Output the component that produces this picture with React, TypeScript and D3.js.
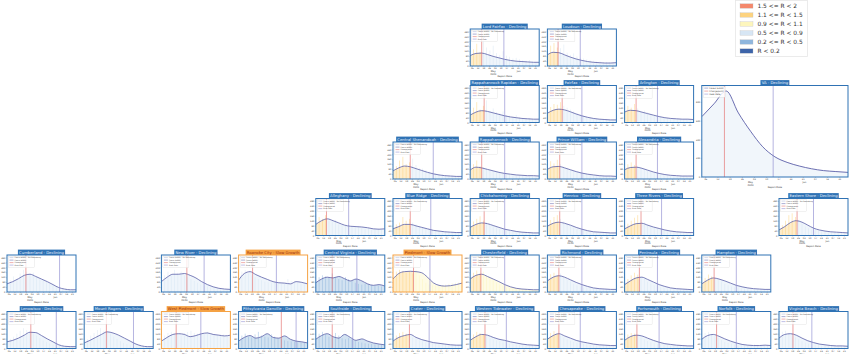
import React, { useEffect, useRef } from "react";
import * as d3 from "d3";

const W = 850;
const H = 354;

// colour key (top right)
const legendLabels = ["1.5 <= R < 2", "1.1 <= R < 1.5", "0.9 <= R < 1.1", "0.5 <= R < 0.9", "0.2 <= R < 0.5", "R < 0.2"];
const legendColors = ["#f4886c", "#fdd37f", "#fdf6bd", "#d7e6f4", "#8fb6dd", "#3d64a9"];

// small multiples, one per health district
const regionNames = [
  "Lord Fairfax", "Loudoun",
  "Rappahannock Rapidan", "Fairfax", "Arlington",
  "Central Shenandoah", "Rappahannock", "Prince William", "Alexandria",
  "Alleghany", "Blue Ridge", "Chickahominy", "Henrico", "Three Rivers", "Eastern Shore",
  "Cumberland", "New River", "Roanoke City", "Central Virginia", "Piedmont", "Chesterfield", "Richmond", "Peninsula", "Hampton",
  "Lenowisco", "Mount Rogers", "West Piedmont", "Pittsylvania Danville", "Southside", "Crater", "Western Tidewater", "Chesapeake", "Portsmouth", "Norfolk", "Virginia Beach",
];
const regionStatus = [
  "Declining", "Declining",
  "Declining", "Declining", "Declining",
  "Declining", "Declining", "Declining", "Declining",
  "Declining", "Declining", "Declining", "Declining", "Declining", "Declining",
  "Declining", "Declining", "Slow Growth", "Declining", "Slow Growth", "Declining", "Declining", "Declining", "Declining",
  "Declining", "Declining", "Slow Growth", "Declining", "Declining", "Declining", "Declining", "Declining", "Declining", "Declining", "Declining",
];
const regionRow = [0, 0, 1, 1, 1, 2, 2, 2, 2, 3, 3, 3, 3, 3, 3, 4, 4, 4, 4, 4, 4, 4, 4, 4, 5, 5, 5, 5, 5, 5, 5, 5, 5, 5, 5];
const regionCol = [6, 7, 6, 7, 8, 5, 6, 7, 8, 4, 5, 6, 7, 8, 10, 0, 2, 3, 4, 5, 6, 7, 8, 9, 0, 1, 2, 3, 4, 5, 6, 7, 8, 9, 10];

// days after the first report date
const changeDay = [14, 13, 17, 18, 14, 21, 14, 15, 14, 13, 21, 17, 15, 20, 22, 23, 31, 17, 20, 25, 13, 14, 18, 15, 29, 27, 18, 52, 20, 20, 18, 14, 15, 18, 17];
const peakDay = [41, 40, 42, 42, 40, 49, 42, 42, 40, 40, 46, 42, 42, 45, 42, 64, 52, 46, 50, 45, 42, 42, 40, 42, 60, 60, 48, 70, 45, 44, 44, 40, 42, 42, 40];
const earlyTone = [1, 1, 1, 1, 1, 1, 1, 1, 1, 1, 1, 1, 1, 1, 1, 3, 3, 3, 4, 1, 1, 1, 1, 1, 3, 3, 3, 4, 4, 1, 1, 1, 1, 3, 3];
const lateTone = [3, 3, 3, 3, 3, 3, 3, 3, 3, 3, 3, 3, 3, 3, 3, 3, 3, 3, 4, 2, 2, 3, 3, 3, 3, 3, 3, 4, 4, 3, 3, 3, 3, 3, 3];

// smoothed cases, one value per week
const curveCases = [
  [84, 102, 105, 93, 78, 66, 54, 45, 39, 36, 33, 30, 30],
  [90, 111, 108, 90, 72, 57, 45, 36, 30, 27, 24, 24, 27],
  [60, 84, 96, 90, 78, 66, 54, 45, 39, 33, 30, 27, 27],
  [75, 99, 108, 102, 87, 69, 54, 42, 33, 27, 24, 21, 21],
  [84, 99, 96, 84, 72, 60, 48, 39, 33, 30, 27, 27, 24],
  [66, 90, 105, 99, 84, 69, 54, 42, 33, 27, 24, 21, 21],
  [72, 96, 90, 78, 66, 54, 45, 39, 33, 30, 27, 27, 24],
  [78, 99, 102, 90, 75, 60, 48, 39, 33, 27, 24, 24, 21],
  [75, 93, 96, 87, 72, 57, 45, 36, 30, 27, 24, 24, 24],
  [90, 120, 135, 120, 102, 84, 75, 72, 69, 63, 54, 51, 54],
  [54, 72, 90, 90, 78, 66, 54, 42, 36, 30, 27, 24, 24],
  [66, 90, 102, 96, 81, 66, 51, 42, 33, 27, 24, 21, 21],
  [75, 99, 108, 99, 84, 66, 51, 39, 30, 27, 24, 21, 21],
  [54, 78, 96, 99, 84, 69, 57, 45, 36, 30, 27, 24, 24],
  [45, 72, 105, 120, 108, 84, 60, 45, 36, 30, 27, 24, 21],
  [66, 84, 108, 135, 144, 126, 105, 84, 60, 36, 24, 18, 18],
  [84, 120, 144, 144, 150, 135, 114, 84, 60, 42, 30, 24, 21],
  [96, 150, 165, 141, 120, 102, 84, 75, 72, 66, 84, 78, 66],
  [75, 105, 120, 114, 126, 108, 90, 105, 90, 66, 54, 60, 48],
  [105, 150, 165, 168, 165, 156, 120, 75, 54, 48, 51, 60, 72],
  [105, 135, 144, 126, 105, 84, 60, 42, 30, 24, 21, 18, 18],
  [90, 120, 132, 120, 99, 78, 60, 45, 33, 27, 24, 21, 21],
  [60, 90, 114, 120, 102, 81, 60, 45, 33, 27, 24, 21, 18],
  [66, 96, 114, 105, 90, 72, 54, 42, 33, 27, 24, 21, 21],
  [54, 66, 84, 108, 132, 129, 105, 78, 54, 30, 18, 15, 15],
  [45, 66, 90, 114, 135, 126, 108, 84, 60, 36, 21, 15, 15],
  [60, 90, 114, 120, 114, 96, 105, 120, 126, 114, 108, 102, 108],
  [60, 90, 105, 84, 96, 120, 90, 84, 102, 75, 60, 54, 45],
  [75, 105, 120, 96, 84, 114, 90, 66, 78, 60, 45, 36, 30],
  [60, 90, 105, 114, 90, 72, 60, 48, 42, 36, 30, 27, 27],
  [66, 96, 114, 108, 90, 75, 66, 54, 45, 36, 30, 27, 24],
  [75, 105, 120, 102, 84, 66, 54, 45, 36, 30, 27, 24, 24],
  [66, 96, 108, 102, 84, 66, 51, 39, 33, 27, 24, 21, 21],
  [75, 105, 114, 99, 78, 60, 45, 33, 27, 24, 24, 27, 24],
  [84, 114, 120, 108, 84, 63, 48, 36, 30, 24, 21, 21, 18],
];

// raw reported cases, every fourth day
const dailyCases = [
  [90, 135, 180, 114, 210, 150, 126, 165, 105, 90, 120, 84, 75, 60, 66, 54, 45, 42, 48, 36, 30],
  [120, 165, 186, 150, 144, 174, 108, 90, 102, 78, 66, 60, 54, 45, 42, 36, 36, 30, 33, 30, 27],
  [75, 120, 165, 105, 135, 180, 90, 114, 84, 75, 90, 60, 54, 45, 60, 42, 36, 30, 36, 27, 24],
  [90, 126, 150, 144, 165, 135, 120, 105, 90, 78, 66, 54, 45, 39, 36, 30, 27, 24, 24, 21, 18],
  [105, 135, 120, 150, 114, 90, 96, 84, 66, 60, 54, 45, 42, 36, 33, 30, 27, 27, 24, 24, 21],
  [75, 105, 150, 180, 120, 135, 165, 114, 90, 84, 72, 60, 54, 45, 39, 36, 30, 27, 27, 24, 21],
  [90, 120, 150, 105, 96, 84, 75, 66, 54, 45, 42, 36, 33, 30, 27, 27, 24, 24, 21, 21, 18],
  [105, 144, 126, 156, 120, 102, 90, 78, 66, 54, 48, 42, 36, 33, 30, 27, 24, 24, 21, 21, 18],
  [96, 120, 135, 114, 108, 90, 78, 66, 57, 48, 42, 36, 33, 30, 27, 27, 24, 24, 24, 21, 21],
  [105, 150, 135, 165, 120, 114, 126, 90, 84, 78, 90, 75, 66, 72, 60, 54, 60, 51, 48, 54, 45],
  [60, 90, 105, 150, 120, 135, 105, 90, 75, 66, 60, 54, 45, 42, 36, 33, 30, 27, 27, 24, 24],
  [75, 114, 135, 156, 120, 105, 96, 84, 66, 54, 48, 42, 36, 33, 30, 27, 24, 24, 21, 21, 18],
  [90, 126, 150, 165, 135, 114, 96, 78, 66, 54, 45, 39, 33, 30, 27, 24, 24, 21, 21, 18, 18],
  [60, 96, 120, 144, 165, 126, 105, 90, 78, 66, 54, 48, 42, 36, 33, 30, 27, 27, 24, 24, 21],
  [48, 84, 120, 165, 180, 150, 126, 96, 72, 60, 48, 42, 36, 33, 30, 27, 24, 24, 21, 21, 18],
  [75, 96, 126, 105, 150, 180, 165, 135, 156, 120, 105, 96, 84, 66, 54, 42, 30, 24, 21, 18, 18],
  [90, 135, 165, 150, 180, 156, 165, 135, 120, 105, 90, 75, 60, 54, 45, 36, 30, 27, 24, 21, 21],
  [105, 165, 180, 150, 135, 120, 105, 96, 84, 78, 72, 75, 69, 66, 72, 105, 90, 84, 72, 66, 60],
  [84, 120, 135, 126, 114, 150, 120, 105, 96, 120, 105, 90, 75, 66, 60, 66, 60, 54, 48, 51, 45],
  [120, 165, 180, 171, 156, 165, 150, 180, 135, 105, 75, 60, 54, 51, 48, 54, 60, 66, 72, 75, 78],
  [120, 156, 174, 150, 165, 126, 114, 96, 78, 60, 48, 36, 30, 27, 24, 21, 21, 18, 18, 18, 15],
  [105, 144, 156, 135, 150, 114, 99, 84, 66, 54, 45, 36, 33, 30, 27, 24, 21, 21, 21, 18, 18],
  [66, 105, 135, 156, 141, 126, 105, 84, 69, 54, 45, 39, 33, 30, 27, 24, 21, 21, 18, 18, 18],
  [75, 114, 141, 126, 111, 96, 84, 66, 54, 45, 39, 33, 30, 27, 24, 24, 21, 21, 21, 18, 18],
  [60, 78, 96, 120, 144, 165, 150, 135, 120, 105, 84, 66, 54, 42, 30, 24, 18, 15, 15, 15, 12],
  [54, 75, 105, 126, 150, 165, 144, 135, 120, 96, 78, 60, 45, 36, 27, 21, 18, 15, 15, 15, 12],
  [66, 105, 126, 135, 120, 114, 105, 126, 135, 144, 126, 120, 114, 126, 135, 120, 114, 108, 111, 114, 105],
  [66, 105, 120, 96, 90, 114, 135, 105, 96, 90, 114, 96, 84, 75, 66, 60, 57, 54, 51, 48, 45],
  [84, 120, 135, 114, 96, 90, 126, 105, 84, 75, 84, 72, 60, 54, 48, 42, 39, 36, 33, 30, 30],
  [66, 105, 126, 135, 120, 105, 90, 75, 66, 57, 51, 45, 42, 39, 36, 33, 30, 30, 27, 27, 27],
  [75, 114, 135, 126, 114, 96, 84, 75, 66, 60, 51, 45, 39, 36, 33, 30, 27, 27, 24, 24, 21],
  [84, 126, 141, 120, 105, 90, 75, 63, 54, 48, 42, 36, 33, 30, 27, 27, 24, 24, 24, 21, 21],
  [75, 114, 126, 120, 105, 90, 75, 60, 51, 42, 36, 33, 30, 27, 24, 24, 21, 21, 21, 18, 18],
  [84, 126, 135, 114, 99, 84, 69, 54, 45, 39, 33, 30, 27, 27, 27, 30, 33, 30, 27, 24, 24],
  [96, 135, 144, 126, 108, 90, 75, 60, 48, 39, 33, 30, 27, 24, 24, 21, 21, 21, 18, 18, 18],
];

// statewide panel
const vaCurve = [643, 780, 917, 683, 488, 322, 215, 156, 117, 88, 68, 58, 49];
const vaChangeDay = 13;
const vaPeakDay = 41;

const smallLegend = ["Cases (EWM) - No Smoothing", "Cases (EWM)", "Changepoint", "Peak Date"];
const vaLegend = ["Cases (EWM)", "Changepoint", "Peak Date"];
const legendLineColors: Record<string, string> = {
  "Cases (EWM) - No Smoothing": "#a9b3d6",
  "Cases (EWM)": "#5b5fa8",
  Changepoint: "#e0625f",
  "Peak Date": "#8583cc",
};

const startDate = new Date(2020, 3, 3);
const endDate = new Date(2020, 5, 26);

const FONT = "DejaVu Sans, sans-serif";

interface PanelSpec {
  id: number;
  x: number;
  y: number;
  w: number;
  h: number;
  title: string;
  slow: boolean;
  curve: number[];
  bars: number[];
  change: number;
  peak: number;
  toneA: number;
  toneB: number;
  yMax: number;
  yStep: number;
  legend: string[];
  big?: boolean;
}

function drawPanel(root: d3.Selection<SVGSVGElement, unknown, null, undefined>, defs: any, p: PanelSpec) {
  const x = d3.scaleTime().domain([startDate, endDate]).range([p.x, p.x + p.w]);
  const y = d3.scaleLinear().domain([0, p.yMax]).range([p.y + p.h, p.y]);
  const edge = p.slow ? "#f5a244" : "#2f72b4";
  const g = root.append("g");

  const changeDate = d3.timeDay.offset(startDate, p.change);
  const peakDate = d3.timeDay.offset(startDate, p.peak);
  const xc = x(changeDate);

  const clipAll = `clip-all-${p.id}`;
  const clipL = `clip-l-${p.id}`;
  const clipR = `clip-r-${p.id}`;
  defs.append("clipPath").attr("id", clipAll).append("rect")
    .attr("x", p.x).attr("y", p.y).attr("width", p.w).attr("height", p.h);
  defs.append("clipPath").attr("id", clipL).append("rect")
    .attr("x", p.x).attr("y", p.y).attr("width", xc - p.x).attr("height", p.h);
  defs.append("clipPath").attr("id", clipR).append("rect")
    .attr("x", xc).attr("y", p.y).attr("width", p.x + p.w - xc).attr("height", p.h);

  g.append("rect").attr("x", p.x).attr("y", p.y).attr("width", p.w).attr("height", p.h).attr("fill", "#fff");

  const inner = g.append("g").attr("clip-path", `url(#${clipAll})`);

  // raw daily bars
  const barPts = p.bars.map((v, i) => ({ date: d3.timeDay.offset(startDate, i * 4), v }));
  inner.selectAll("rect.bar")
    .data(barPts)
    .join("rect")
    .attr("class", "bar")
    .attr("x", (d) => x(d.date) - 0.4)
    .attr("width", 0.8)
    .attr("y", (d) => y(d.v))
    .attr("height", (d) => y(0) - y(d.v))
    .attr("fill", (d) => legendColors[d.date < changeDate ? p.toneA : p.toneB])
    .attr("opacity", 0.6);

  const pts = p.curve.map((v, i) => ({ date: d3.timeDay.offset(startDate, i * 7), v }));
  const area = d3.area<{ date: Date; v: number }>()
    .x((d) => x(d.date))
    .y0(y(0))
    .y1((d) => y(d.v))
    .curve(d3.curveMonotoneX);
  const line = d3.line<{ date: Date; v: number }>()
    .x((d) => x(d.date))
    .y((d) => y(d.v))
    .curve(d3.curveMonotoneX);

  inner.append("path").attr("d", area(pts)).attr("fill", legendColors[p.toneA])
    .attr("opacity", p.big ? 0.35 : 0.4).attr("clip-path", `url(#${clipL})`);
  inner.append("path").attr("d", area(pts)).attr("fill", legendColors[p.toneB])
    .attr("opacity", p.big ? 0.35 : 0.4).attr("clip-path", `url(#${clipR})`);
  inner.append("path").attr("d", line(pts)).attr("fill", "none")
    .attr("stroke", "#5b5fa8").attr("stroke-width", p.big ? 0.9 : 0.8);

  inner.append("line").attr("x1", xc).attr("x2", xc).attr("y1", p.y).attr("y2", p.y + p.h)
    .attr("stroke", "#e0625f").attr("stroke-width", 0.6);
  inner.append("line").attr("x1", x(peakDate)).attr("x2", x(peakDate)).attr("y1", p.y).attr("y2", p.y + p.h)
    .attr("stroke", "#8583cc").attr("stroke-width", 0.6);

  // in-panel legend
  const fs = p.big ? 2.2 : 1.8;
  const gap = p.big ? 3 : 2.5;
  const lg = g.append("g");
  lg.append("rect").attr("x", p.x + 1.5).attr("y", p.y + 1.2)
    .attr("width", p.big ? 22 : 26).attr("height", p.legend.length * gap + 1.5)
    .attr("fill", "#fff").attr("fill-opacity", 0.8).attr("stroke", "#d0d0d0").attr("stroke-width", 0.3);
  p.legend.forEach((name, i) => {
    const yy = p.y + 2.6 + i * gap;
    lg.append("line").attr("x1", p.x + 2.5).attr("x2", p.x + 6.5).attr("y1", yy).attr("y2", yy)
      .attr("stroke", legendLineColors[name]).attr("stroke-width", 0.5);
    lg.append("text").attr("x", p.x + 7.5).attr("y", yy).attr("dy", "0.35em")
      .attr("font-size", fs).attr("fill", "#444").text(name);
  });

  // axes
  const yAxis = d3.axisLeft(y).tickValues(d3.range(0, p.yMax, p.yStep)).tickSize(1).tickPadding(0.6);
  g.append("g").attr("transform", `translate(${p.x},0)`).call(yAxis as any)
    .attr("font-size", 2.2).attr("font-family", FONT)
    .call((s) => {
      s.select(".domain").remove();
      s.selectAll("line").attr("stroke", "#777").attr("stroke-width", 0.3);
      s.selectAll("text").attr("fill", "#333");
    });

  const weeks = d3.timeWeek.range(startDate, endDate);
  const xAxis = d3.axisBottom(x).tickValues(weeks).tickFormat(d3.timeFormat("%d") as any).tickSize(1).tickPadding(0.6);
  g.append("g").attr("transform", `translate(0,${p.y + p.h})`).call(xAxis as any)
    .attr("font-size", 2.2).attr("font-family", FONT)
    .call((s) => {
      s.select(".domain").remove();
      s.selectAll("line").attr("stroke", "#777").attr("stroke-width", 0.3);
      s.selectAll("text").attr("fill", "#333");
    });

  const months = d3.timeMonth.range(startDate, endDate);
  months.forEach((m) => {
    const t = g.append("text").attr("x", x(m)).attr("y", p.y + p.h + 6)
      .attr("text-anchor", "middle").attr("font-size", 2.4).attr("fill", "#333");
    t.append("tspan").attr("x", x(m)).text(d3.timeFormat("%b")(m));
    if (m.getMonth() === 4) t.append("tspan").attr("x", x(m)).attr("dy", "1.1em").text("2020");
  });
  g.append("text").attr("x", p.x + p.w / 2).attr("y", p.y + p.h + 11)
    .attr("text-anchor", "middle").attr("font-size", 2.4).attr("fill", "#333").text("Report Date");

  // frame
  g.append("rect").attr("x", p.x).attr("y", p.y).attr("width", p.w).attr("height", p.h)
    .attr("fill", "none").attr("stroke", edge).attr("stroke-width", 1);

  // title bar
  const tg = g.append("g");
  const bar = tg.append("rect").attr("fill", edge);
  const txt = tg.append("text").attr("x", p.x + p.w / 2).attr("y", p.y - 1.5)
    .attr("text-anchor", "middle").attr("font-size", 3.8)
    .attr("fill", p.slow ? "#9a2d10" : "#eef5ff")
    .text(`${p.title} - ${p.slow ? "Slow Growth" : "Declining"}`);
  const tw = (txt.node() as SVGTextElement).getComputedTextLength();
  bar.attr("x", p.x + p.w / 2 - tw / 2 - 1.2).attr("y", p.y - 5.4)
    .attr("width", tw + 2.4).attr("height", 5.4);
}

export default function App() {
  const ref = useRef<SVGSVGElement>(null);

  useEffect(() => {
    if (!ref.current) return;
    const svg = d3.select(ref.current);
    svg.selectAll("*").remove();
    svg.append("rect").attr("width", W).attr("height", H).attr("fill", "#fff");
    const defs = svg.append("defs");

    const colX = (c: number) => 7 + c * 77.2;
    const rowY = (r: number) => 29 + r * 56.5;
    const pw = 69;
    const ph = 37;

    regionNames.forEach((name, i) => {
      drawPanel(svg, defs, {
        id: i,
        x: colX(regionCol[i]),
        y: rowY(regionRow[i]),
        w: pw,
        h: ph,
        title: name,
        slow: regionStatus[i] === "Slow Growth",
        curve: curveCases[i],
        bars: dailyCases[i],
        change: changeDay[i],
        peak: peakDay[i],
        toneA: earlyTone[i],
        toneB: lateTone[i],
        yMax: 300,
        yStep: 40,
        legend: smallLegend,
      });
    });

    drawPanel(svg, defs, {
      id: 99,
      x: colX(9),
      y: rowY(1),
      w: colX(10) + pw - colX(9),
      h: 177 - rowY(1),
      title: "VA",
      slow: false,
      curve: vaCurve,
      bars: [],
      change: vaChangeDay,
      peak: vaPeakDay,
      toneA: 3,
      toneB: 3,
      yMax: 975,
      yStep: 200,
      legend: vaLegend,
      big: true,
    });

    // colour key
    const key = svg.append("g").attr("font-family", FONT);
    key.append("rect").attr("x", 735.5).attr("y", 0.5).attr("width", 72).attr("height", 56)
      .attr("fill", "#fff").attr("stroke", "#e6e6e6").attr("stroke-width", 0.8);
    legendLabels.forEach((lab, i) => {
      const cy = 6 + i * 9;
      key.append("rect").attr("x", 740).attr("y", cy - 2.2).attr("width", 13).attr("height", 4.4)
        .attr("fill", legendColors[i]).attr("stroke", "#bbb").attr("stroke-width", 0.3);
      key.append("text").attr("x", 757.5).attr("y", cy).attr("dy", "0.35em")
        .attr("font-size", 5.9).attr("fill", "#333").text(lab);
    });
  }, []);

  return (
    <svg
      ref={ref}
      width={W}
      height={H}
      style={{ position: "absolute", left: 0, top: 0, fontFamily: FONT }}
    />
  );
}
